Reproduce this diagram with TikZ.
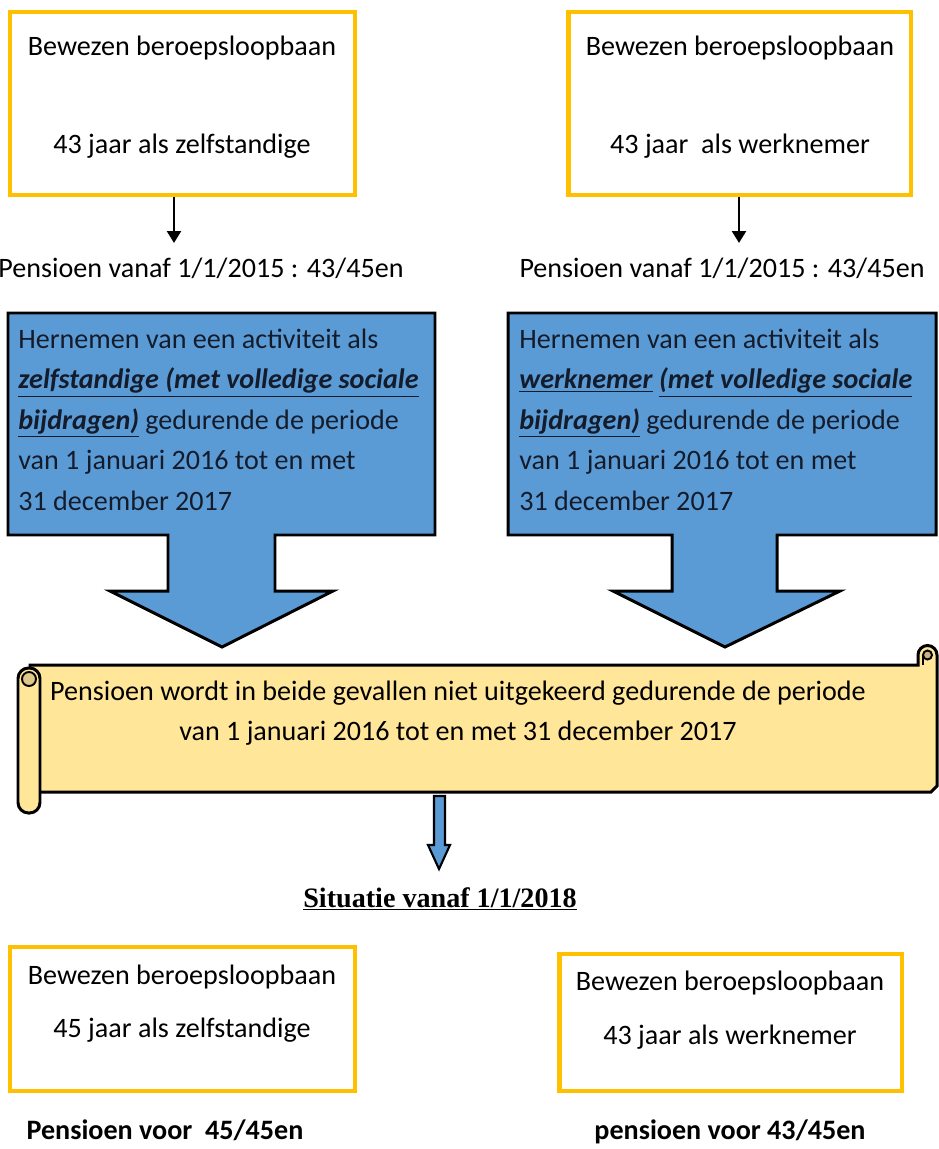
\documentclass[tikz,border=0pt]{standalone}
\usepackage{fontspec}
\setmainfont{Carlito}
\newfontfamily\kopfont{Liberation Serif}
\usetikzlibrary{arrows.meta, positioning, calc}

\definecolor{goud}{HTML}{FFC000}
\definecolor{blauw}{HTML}{5B9BD5}
\definecolor{perkament}{HTML}{FFE699}
\definecolor{krul}{HTML}{C8B27E}
\definecolor{inkt}{HTML}{141C2C}

\newcommand{\onder}[1]{\underline{\textbf{\textit{#1}}}}

\tikzset{
  loopbaan/.style={draw=goud, line width=2.8pt, fill=white, inner sep=0pt},
  tekst/.style={font=\fontsize{16}{23}\selectfont, inner sep=0pt},
  pijl/.style={line width=1.4pt, -{Triangle[length=0.24cm, width=0.28cm]}},
  blok/.style={draw=black, line width=1.7pt, fill=blauw, line join=miter},
  rol/.style={draw=black, line width=1.7pt, fill=perkament},
}

\begin{document}
\begin{tikzpicture}[x=0.02cm, y=-0.02cm]
    \useasboundingbox (0,0) rectangle (939,1149);

    % Bewezen beroepsloopbaan (zelfstandige)
    \node[loopbaan, minimum width=6.9cm, minimum height=3.66cm] (zBox) at (182.5,103.5) {};
    \node[tekst] (zTitel) at (182,48) {Bewezen beroepsloopbaan};
    \node[tekst] (zJaren) at (182,146) {43 jaar als zelfstandige};
    \node[tekst] (zPensioen) at (201,268) {Pensioen vanaf 1/1/2015 : 43/45en};
    \coordinate (zPijl) at (174,243);
    \draw[pijl] (zBox.south -| zPijl) -- (zPijl);

    % Bewezen beroepsloopbaan (werknemer)
    \node[loopbaan, minimum width=6.86cm, minimum height=3.66cm] (wBox) at (739.5,103.5) {};
    \node[tekst] (wTitel) at (740,48) {Bewezen beroepsloopbaan};
    \node[tekst] (wJaren) at (740,146) {43 jaar~ als werknemer};
    \node[tekst] (wPensioen) at (722,268) {Pensioen vanaf 1/1/2015 : 43/45en};
    \coordinate (wPijl) at (739,243);
    \draw[pijl] (wBox.south -| wPijl) -- (wPijl);

    % Hernemen van een activiteit (blauwe pijlen)
    \draw[blok] (8,313) -- (435,313) -- (435,535) -- (275,535) -- (275,591) -- (333,591)
        -- (222,647) -- (110,591) -- (168,591) -- (168,535) -- (8,535) -- cycle;
    \node[tekst, text=inkt, anchor=base west, align=left] (zHernemen) at (18,510)
        {Hernemen van een activiteit als\\
         \onder{zelfstandige (met volledige sociale}\\
         \onder{bijdragen)} gedurende de periode\\
         van 1 januari 2016 tot en met\\
         31 december 2017};

    \draw[blok] (508,313) -- (936,313) -- (936,535) -- (777,535) -- (777,591) -- (840,591)
        -- (725,647) -- (613,591) -- (672,591) -- (672,535) -- (508,535) -- cycle;
    \node[tekst, text=inkt, anchor=base west, align=left] (wHernemen) at (519,510)
        {Hernemen van een activiteit als\\
         \onder{werknemer} \onder{(met volledige sociale}\\
         \onder{bijdragen)} gedurende de periode\\
         van 1 januari 2016 tot en met\\
         31 december 2017};

    % Perkamentrol
    \draw[rol] (30,665) -- (918,665) -- (918,655) arc[start angle=180, end angle=360, radius=9.5]
        -- (937,786) -- (931,792) -- (30,792) -- cycle;
    \filldraw[fill=krul, line width=1.1pt] (927.5,655) circle[radius=4.5];
    \draw[line width=1.1pt] (923,655) -- (923,665);
    \draw[rol, rounded corners=0.21cm] (18,668) rectangle (40,813);
    \filldraw[fill=krul!60!perkament, line width=1.1pt] (29,679) circle[radius=7];
    \node[tekst, align=center] (rolTekst) at (458,713)
        {Pensioen wordt in beide gevallen niet uitgekeerd gedurende de periode\\
         van 1 januari 2016 tot en met 31 december 2017};

    % Kleine pijl naar situatie 2018
    \draw[blok, line width=1.2pt] (434,796) -- (445,796) -- (445,845) -- (450,845)
        -- (439,869) -- (428,845) -- (434,845) -- cycle;
    \node[font=\kopfont\bfseries\fontsize{16}{19}\selectfont, inner sep=0pt, anchor=base] (situatie) at (440,907)
        {\underline{Situatie vanaf 1/1/2018}};

    % Situatie vanaf 1/1/2018
    \node[loopbaan, minimum width=6.9cm, minimum height=2.88cm] (zNaBox) at (182.5,1019) {};
    \node[tekst] (zNaTitel) at (182,977) {Bewezen beroepsloopbaan};
    \node[tekst] (zNaJaren) at (182,1030) {45 jaar als zelfstandige};
    \node[tekst, font=\fontsize{16}{23}\selectfont\bfseries, anchor=base] (zNaPensioen) at (165,1139) {Pensioen voor~ 45/45en};

    \node[loopbaan, minimum width=6.86cm, minimum height=2.74cm] (wNaBox) at (730.5,1022.5) {};
    \node[tekst] (wNaTitel) at (730,983) {Bewezen beroepsloopbaan};
    \node[tekst] (wNaJaren) at (730,1037) {43 jaar als werknemer};
    \node[tekst, font=\fontsize{16}{23}\selectfont\bfseries, anchor=base] (wNaPensioen) at (730,1139) {pensioen voor 43/45en};
\end{tikzpicture}
\end{document}
